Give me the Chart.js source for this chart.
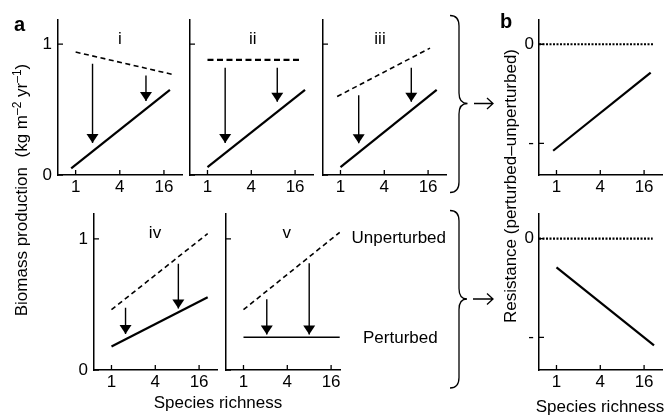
<!DOCTYPE html>
<html>
<head>
<meta charset="utf-8">
<script src="https://cdn.jsdelivr.net/npm/chart.js@4"></script>
<style>
  html, body { margin: 0; padding: 0; background: #fff; }
  #fig { position: relative; width: 671px; height: 417px; overflow: hidden; }
  #fig canvas { position: absolute; }
  #notes { position: absolute; left: 0; top: 0; }
  #notes text { white-space: pre; }
</style>
</head>
<body>
<div id="fig">
  <svg id="notes" width="671" height="417" font-family="'Liberation Sans', Arial, sans-serif" font-size="17" fill="#000">
    <!-- panel letters -->
    <text x="14" y="31" font-weight="bold" font-size="20">a</text>
    <text x="500" y="27.5" font-weight="bold" font-size="20">b</text>
    <!-- scenario numerals -->
    <text x="120" y="43.5" text-anchor="middle">i</text>
    <text x="252.7" y="43.5" text-anchor="middle">ii</text>
    <text x="380" y="43.5" text-anchor="middle">iii</text>
    <text x="155" y="238" text-anchor="middle">iv</text>
    <text x="286.7" y="238" text-anchor="middle">v</text>
    <text x="351.5" y="243.3">Unperturbed</text>
    <text x="363" y="343.3">Perturbed</text>
    <!-- axis titles -->
    <text transform="translate(27 190) rotate(-90)" text-anchor="middle">Biomass production  (kg m<tspan dy="-6" font-size="12">–2</tspan><tspan dy="6"> yr</tspan><tspan dy="-6" font-size="12">–1</tspan><tspan dy="6">)</tspan></text>
    <text transform="translate(516 186) rotate(-90)" text-anchor="middle">Resistance (perturbed–unperturbed)</text>
    <text x="218" y="408" text-anchor="middle">Species richness</text>
    <text x="600" y="411.7" text-anchor="middle">Species richness</text>
    <!-- braces and arrows -->
    <g fill="none" stroke="#000" stroke-width="1.3">
      <path d="M450 15.5 Q459 15.5 459 26 V93 Q459 103.5 467.5 103.5 Q459 103.5 459 114 V182 Q459 192.5 450 192.5"/>
      <path d="M450 210.5 Q459 210.5 459 221 V288.5 Q459 299 467 299 Q459 299 459 309.5 V377.5 Q459 388 450 388"/>
      <path d="M474 103.5 H493 M487 98 L493 103.5 L487 109"/>
      <path d="M473 299 H493 M487 293.5 L493 299 L487 304.5"/>
    </g>
  </svg>
</div>
<script>
// ---- Shared axes ----
const richnessTicks = [1, 4, 16];
const productionTicks = [0, 1];
const productionLabels = ['0', '1'];
const resistanceTicks = [-1, 0];
const resistanceLabels = ['-', '0'];

// ---- Panel i ----
const iUnpertX = [1, 20.6];
const iUnpertY = [0.94, 0.77];
const iPertX = [0.87, 19.3];
const iPertY = [0.05, 0.65];
const iArrowX = [1.7, 9.1];
const iArrowFrom = [0.85, 0.76];
const iArrowTo = [0.245, 0.565];

// ---- Panel ii ----
const iiUnpertX = [1, 20.1];
const iiUnpertY = [0.88, 0.88];
const iiPertX = [1, 21.9];
const iiPertY = [0.06, 0.65];
const iiArrowX = [1.75, 9.1];
const iiArrowFrom = [0.82, 0.82];
const iiArrowTo = [0.245, 0.56];

// ---- Panel iii ----
const iiiUnpertX = [0.9, 17];
const iiiUnpertY = [0.6, 0.97];
const iiiPertX = [1, 21];
const iiiPertY = [0.06, 0.65];
const iiiArrowX = [1.78, 9.4];
const iiiArrowFrom = [0.61, 0.82];
const iiiArrowTo = [0.242, 0.56];

// ---- Panel iv ----
const ivUnpertX = [1, 21];
const ivUnpertY = [0.46, 1.04];
const ivPertX = [1, 21];
const ivPertY = [0.18, 0.555];
const ivArrowX = [1.56, 8.3];
const ivArrowFrom = [0.475, 0.81];
const ivArrowTo = [0.275, 0.47];

// ---- Panel v ----
const vUnpertX = [1, 21];
const vUnpertY = [0.46, 1.05];
const vPertX = [1, 21];
const vPertY = [0.25, 0.25];
const vArrowX = [2.09, 8];
const vArrowFrom = [0.54, 0.815];
const vArrowTo = [0.27, 0.27];

// ---- Panel b (resistance) ----
const bTopZeroX = [0.575, 21.4];
const bBottomZeroX = [0.575, 21];
const bZeroY = [0, 0];
const bTopX = [0.9, 19.7];
const bTopY = [-1.075, -0.287];
const bBottomX = [1, 21.9];
const bBottomY = [-0.29, -1.08];

// ---- Layout ----
const FONT = "'Liberation Sans', Arial, sans-serif";
const AXIS_W = 34, AXIS_H = 30, PAD_T = 4, PAD_R = 6;
const X_MIN = 0.575;
Chart.defaults.font.family = FONT;
Chart.defaults.color = '#000';

const fig = document.getElementById('fig');
const notes = document.getElementById('notes');

// inward tick marks on both axes
const innerTicks = {
  id: 'innerTicks',
  afterDraw(chart) {
    const { ctx, chartArea: a, scales: { x, y } } = chart;
    ctx.save();
    ctx.strokeStyle = '#000';
    ctx.lineWidth = 1.3;
    ctx.beginPath();
    x.ticks.forEach(t => {
      const px = x.getPixelForValue(t.value);
      ctx.moveTo(px, a.bottom);
      ctx.lineTo(px, a.bottom - 5);
    });
    y.ticks.forEach(t => {
      const py = y.getPixelForValue(t.value);
      ctx.moveTo(a.left, py);
      ctx.lineTo(a.left + 5, py);
    });
    ctx.stroke();
    ctx.restore();
  }
};

// filled heads at the last point of arrow datasets
const arrowHeads = {
  id: 'arrowHeads',
  afterDatasetsDraw(chart) {
    const ctx = chart.ctx;
    ctx.save();
    ctx.fillStyle = '#000';
    chart.data.datasets.forEach((ds, i) => {
      if (!ds.arrowHead) return;
      const pts = chart.getDatasetMeta(i).data;
      const tip = pts[pts.length - 1];
      ctx.beginPath();
      ctx.moveTo(tip.x, tip.y);
      ctx.lineTo(tip.x - 6, tip.y - 9);
      ctx.lineTo(tip.x + 6, tip.y - 9);
      ctx.closePath();
      ctx.fill();
    });
    ctx.restore();
  }
};

const line = (xs, ys, style) => ({
  data: xs.map((x, k) => ({ x, y: ys[k] })),
  borderColor: '#000',
  borderWidth: 2.2,
  pointRadius: 0,
  fill: false,
  tension: 0,
  ...style
});
const dashed = { borderWidth: 1.6, borderDash: [5, 3.5] };
const arrows = (xs, from, to) =>
  xs.map((x, k) => line([x, x], [from[k], to[k]], { borderWidth: 1.4, arrowHead: true }));

function addPanel(box, o) {
  const [left, top, w, h] = box;
  const canvas = document.createElement('canvas');
  canvas.width = AXIS_W + w + PAD_R;
  canvas.height = PAD_T + h + AXIS_H;
  canvas.style.left = (left - AXIS_W) + 'px';
  canvas.style.top = (top - PAD_T) + 'px';
  fig.insertBefore(canvas, notes);

  new Chart(canvas, {
    type: 'line',
    data: { datasets: o.datasets },
    plugins: [innerTicks, arrowHeads],
    options: {
      responsive: false,
      animation: false,
      events: [],
      layout: { padding: { top: PAD_T, right: PAD_R, left: 0, bottom: 0 } },
      plugins: { legend: { display: false }, tooltip: { enabled: false } },
      scales: {
        x: {
          type: 'logarithmic',
          min: X_MIN,
          max: o.xMax,
          bounds: 'data',
          afterBuildTicks: s => { s.ticks = richnessTicks.map(v => ({ value: v })); },
          afterFit: s => { s.height = AXIS_H; s.paddingLeft = 0; s.paddingRight = 0; },
          grid: { drawOnChartArea: false, drawTicks: false },
          border: { color: '#000', width: 1.5 },
          ticks: {
            font: { size: 17 }, padding: 2, maxRotation: 0, autoSkip: false,
            callback: v => String(v)
          }
        },
        y: {
          type: 'linear',
          min: o.yMin,
          max: o.yMax,
          bounds: 'data',
          afterBuildTicks: s => { s.ticks = o.yTicks.map(v => ({ value: v })); },
          afterFit: s => { s.width = AXIS_W; s.paddingTop = 0; s.paddingBottom = 0; },
          grid: { drawOnChartArea: false, drawTicks: false },
          border: { color: '#000', width: 1.5 },
          ticks: {
            display: o.yLabels !== null,
            font: { size: 17 }, padding: o.yPad || 6,
            callback: v => (o.yLabels ? o.yLabels[o.yTicks.indexOf(v)] : '')
          }
        }
      }
    }
  });
}

// ---- Panels a: biomass production ----
addPanel([58, 20, 124, 155], {
  xMax: 28.2, yMin: 0, yMax: 1.185, yTicks: productionTicks, yLabels: productionLabels,
  datasets: [
    line(iUnpertX, iUnpertY, dashed),
    line(iPertX, iPertY),
    ...arrows(iArrowX, iArrowFrom, iArrowTo)
  ]
});
addPanel([190, 20, 123, 155], {
  xMax: 28.2, yMin: 0, yMax: 1.185, yTicks: productionTicks, yLabels: null,
  datasets: [
    line(iiUnpertX, iiUnpertY, { borderWidth: 2.2, borderDash: [6, 3.5] }),
    line(iiPertX, iiPertY),
    ...arrows(iiArrowX, iiArrowFrom, iiArrowTo)
  ]
});
addPanel([323, 20, 123, 155], {
  xMax: 28.2, yMin: 0, yMax: 1.185, yTicks: productionTicks, yLabels: null,
  datasets: [
    line(iiiUnpertX, iiiUnpertY, dashed),
    line(iiiPertX, iiiPertY),
    ...arrows(iiiArrowX, iiiArrowFrom, iiiArrowTo)
  ]
});
addPanel([94, 214, 123, 156], {
  xMax: 28.2, yMin: 0, yMax: 1.19, yTicks: productionTicks, yLabels: productionLabels,
  datasets: [
    line(ivUnpertX, ivUnpertY, dashed),
    line(ivPertX, ivPertY),
    ...arrows(ivArrowX, ivArrowFrom, ivArrowTo)
  ]
});
addPanel([226, 214, 114, 156], {
  xMax: 21.2, yMin: 0, yMax: 1.19, yTicks: productionTicks, yLabels: null,
  datasets: [
    line(vUnpertX, vUnpertY, dashed),
    line(vPertX, vPertY, { borderWidth: 1.6 }),
    ...arrows(vArrowX, vArrowFrom, vArrowTo)
  ]
});

// ---- Panels b: resistance ----
const dotted = { borderWidth: 2.2, borderDash: [2, 1.5] };
addPanel([539, 20, 123, 155], {
  xMax: 28.2, yMin: -1.32, yMax: 0.245, yTicks: resistanceTicks, yLabels: resistanceLabels, yPad: 5,
  datasets: [
    line(bTopZeroX, bZeroY, dotted),
    line(bTopX, bTopY)
  ]
});
addPanel([539, 214, 123, 156], {
  xMax: 28.2, yMin: -1.33, yMax: 0.25, yTicks: resistanceTicks, yLabels: resistanceLabels, yPad: 5,
  datasets: [
    line(bBottomZeroX, bZeroY, dotted),
    line(bBottomX, bBottomY)
  ]
});
</script>
</body>
</html>
